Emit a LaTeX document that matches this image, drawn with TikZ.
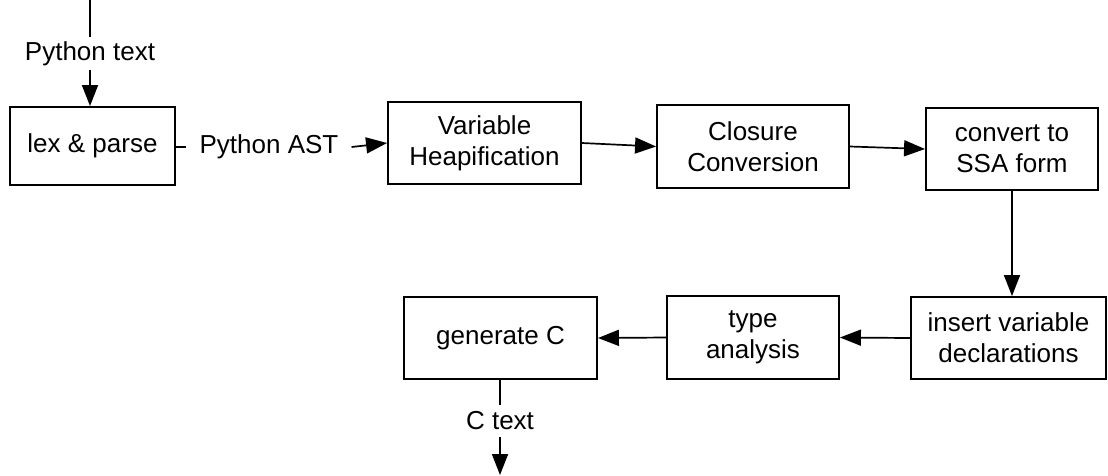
\documentclass[tikz,border=0pt]{standalone}
\usepackage{fontspec}
\setmainfont{Liberation Sans}
\usetikzlibrary{arrows.meta}
\begin{document}
\begin{tikzpicture}[x=1pt,y=-1pt,
  box/.style={draw,line width=1.9pt,align=center,inner sep=0pt,font=\fontsize{26}{31}\selectfont},
  lbl/.style={inner xsep=13pt,inner ysep=4pt,font=\fontsize{26}{31}\selectfont},
  conn/.style={line width=1.7pt},
  arr/.style={conn,-{Triangle[length=21pt,width=16pt]}}]
\useasboundingbox (0,0) rectangle (1108,475);
% boxes
\node[box,minimum width=165pt,minimum height=78pt] (lex) at (92.5,146) {lex \& parse};
\node[box,minimum width=193pt,minimum height=82pt] (heap) at (484.5,143) {Variable\\Heapification};
\node[box,minimum width=192pt,minimum height=83pt] (clos) at (753,146.5) {Closure\\Conversion};
\node[box,minimum width=172pt,minimum height=82pt] (ssa) at (1012,149) {convert to\\SSA form};
\node[box,minimum width=195pt,minimum height=82pt] (ins) at (1008.5,338) {insert variable\\declarations};
\node[box,minimum width=172pt,minimum height=83pt] (type) at (753,337.5) {type\\analysis};
\node[box,minimum width=193pt,minimum height=82pt] (gen) at (500.5,338) {generate C};
% labels on connectors
\coordinate (top) at (90,0);
\node[lbl] (pt) at (90,53.5) {Python text};
\node[lbl] (past) at (269,147) {Python AST};
\node[lbl,inner ysep=7pt] (ct) at (500,421) {C text};
\coordinate (bot) at (500,475);
% connectors
\draw[conn] (top) -- (pt.north);
\draw[arr] (pt.south) -- (lex.north -| pt.south);
\draw[conn] (lex.east |- past.west) -- (past.west);
\draw[arr] (past.east) -- (heap.west);
\draw[arr] (heap.east) -- (clos.west);
\draw[arr] (clos.east) -- (ssa.west);
\draw[arr] (ssa.south) -- (ssa.south |- ins.north);
\draw[arr] (ins.west) -- (type.east);
\draw[arr] (type.west) -- (gen.east);
\draw[conn] (gen.south -| ct.north) -- (ct.north);
\draw[arr] (ct.south) -- (bot);
\end{tikzpicture}
\end{document}
